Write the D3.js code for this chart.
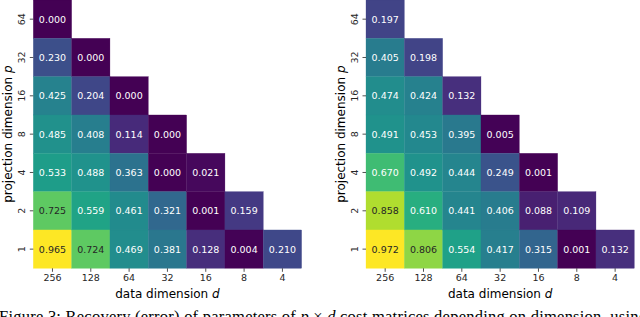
<!DOCTYPE html>
<html>
<head>
<meta charset="utf-8">
<script src="https://cdn.jsdelivr.net/npm/d3@7"></script>
<style>
  body { margin: 0; background: #fff; overflow: hidden; }
  svg { display: block; }
</style>
</head>
<body>
<div id="chart"></div>
<script>
// size of the page
const width = 640;
const height = 317;

// categories
const dataDims = ["256", "128", "64", "32", "16", "8", "4"];
const projDims = ["64", "32", "16", "8", "4", "2", "1"];

// lower triangular error matrices, one row per projection dimension (top to bottom)
const errorsLeft = [
    [0.000],
    [0.230, 0.000],
    [0.425, 0.204, 0.000],
    [0.485, 0.408, 0.114, 0.000],
    [0.533, 0.488, 0.363, 0.000, 0.021],
    [0.725, 0.559, 0.461, 0.321, 0.001, 0.159],
    [0.965, 0.724, 0.469, 0.381, 0.128, 0.004, 0.210]
];
const errorsRight = [
    [0.197],
    [0.405, 0.198],
    [0.474, 0.424, 0.132],
    [0.491, 0.453, 0.395, 0.005],
    [0.670, 0.492, 0.444, 0.249, 0.001],
    [0.858, 0.610, 0.441, 0.406, 0.088, 0.109],
    [0.972, 0.806, 0.554, 0.417, 0.315, 0.001, 0.132]
];

const captionText = "Figure 3: Recovery (error) of parameters of ";

const svg = d3.select("div#chart")
    .append("svg")
    .attr("width", width)
    .attr("height", height);

// seaborn style: dark text on light cells
function relLum(c) {
    const rgb = d3.rgb(c);
    const f = v => {
        v = v / 255;
        return v <= 0.03928 ? v / 12.92 : Math.pow((v + 0.055) / 1.055, 2.4);
    };
    return 0.2126 * f(rgb.r) + 0.7152 * f(rgb.g) + 0.0722 * f(rgb.b);
}

function drawHeatmap(matrix, left) {
    const gridW = 268.3;
    const x = d3.scaleBand().domain(dataDims).range([left, left + gridW]);
    const y = d3.scaleBand().domain(projDims).range([0, gridW]);

    const flat = [];
    matrix.forEach((row, i) => {
        row.forEach((v, j) => flat.push({ p: projDims[i], d: dataDims[j], v: v }));
    });
    const color = d3.scaleSequential(d3.interpolateViridis)
        .domain(d3.extent(flat, dp => dp.v));

    const g = svg.append("g");

    g.selectAll("rect")
        .data(flat)
        .enter()
        .append("rect")
        .attr("x", dp => x(dp.d))
        .attr("y", dp => y(dp.p))
        .attr("width", x.bandwidth())
        .attr("height", y.bandwidth())
        .attr("fill", dp => color(dp.v))
        .attr("stroke", dp => color(dp.v))
        .attr("stroke-width", 0.3);

    g.selectAll("text.annot")
        .data(flat)
        .enter()
        .append("text")
        .attr("class", "annot")
        .attr("x", dp => x(dp.d) + x.bandwidth() / 2)
        .attr("y", dp => y(dp.p) + y.bandwidth() / 2)
        .attr("dy", "0.36em")
        .attr("text-anchor", "middle")
        .attr("font-family", "DejaVu Sans")
        .attr("font-size", "9.5px")
        .attr("fill", dp => relLum(color(dp.v)) > 0.408 ? "#262626" : "#ffffff")
        .text(dp => dp.v.toFixed(3));

    // x axis
    const xAxis = g.append("g")
        .attr("transform", `translate(0,${gridW})`)
        .call(d3.axisBottom(x).tickSize(3.5).tickPadding(2.5));
    xAxis.select(".domain").remove();
    xAxis.selectAll("text")
        .attr("font-family", "DejaVu Sans")
        .attr("font-size", "9.5px")
        .attr("fill", "#262626");
    xAxis.selectAll("line").attr("stroke", "#262626").attr("stroke-width", 0.8);

    // y axis with vertical labels
    const yAxis = g.append("g")
        .attr("transform", `translate(${left},0)`)
        .call(d3.axisLeft(y).tickSize(3.5));
    yAxis.select(".domain").remove();
    yAxis.selectAll("line").attr("stroke", "#262626").attr("stroke-width", 0.8);
    yAxis.selectAll("text")
        .attr("font-family", "DejaVu Sans")
        .attr("font-size", "9.5px")
        .attr("fill", "#262626")
        .attr("x", null)
        .attr("dy", null)
        .attr("text-anchor", "middle")
        .attr("transform", "translate(-12,0) rotate(-90)")
        .attr("y", 0)
        .attr("dominant-baseline", "central");

    // axis labels
    const xl = g.append("text")
        .attr("x", left + gridW / 2)
        .attr("y", 298)
        .attr("text-anchor", "middle")
        .attr("font-family", "DejaVu Sans")
        .attr("font-size", "12px")
        .attr("fill", "#000");
    xl.append("tspan").text("data dimension ");
    xl.append("tspan").attr("font-style", "italic").text("d");

    const yl = g.append("text")
        .attr("transform", `translate(${left - 21},${gridW / 2}) rotate(-90)`)
        .attr("text-anchor", "middle")
        .attr("font-family", "DejaVu Sans")
        .attr("font-size", "12px")
        .attr("fill", "#000");
    yl.append("tspan").text("projection dimension ");
    yl.append("tspan").attr("font-style", "italic").text("p");
}

drawHeatmap(errorsLeft, 33.3);
drawHeatmap(errorsRight, 366);

// figure caption, justified over the page width and cut by the bottom edge
const cap = svg.append("text")
    .attr("x", -1)
    .attr("y", 322)
    .attr("font-family", "Liberation Serif")
    .attr("font-size", "16.5px")
    .attr("fill", "#000")
    .attr("textLength", 648)
    .attr("lengthAdjust", "spacing");
cap.append("tspan").text(captionText);
cap.append("tspan").attr("font-style", "italic").text("p");
cap.append("tspan").text(" × ");
cap.append("tspan").attr("font-style", "italic").text("d");
cap.append("tspan").text(" cost matrices depending on dimension, using");
</script>
</body>
</html>
